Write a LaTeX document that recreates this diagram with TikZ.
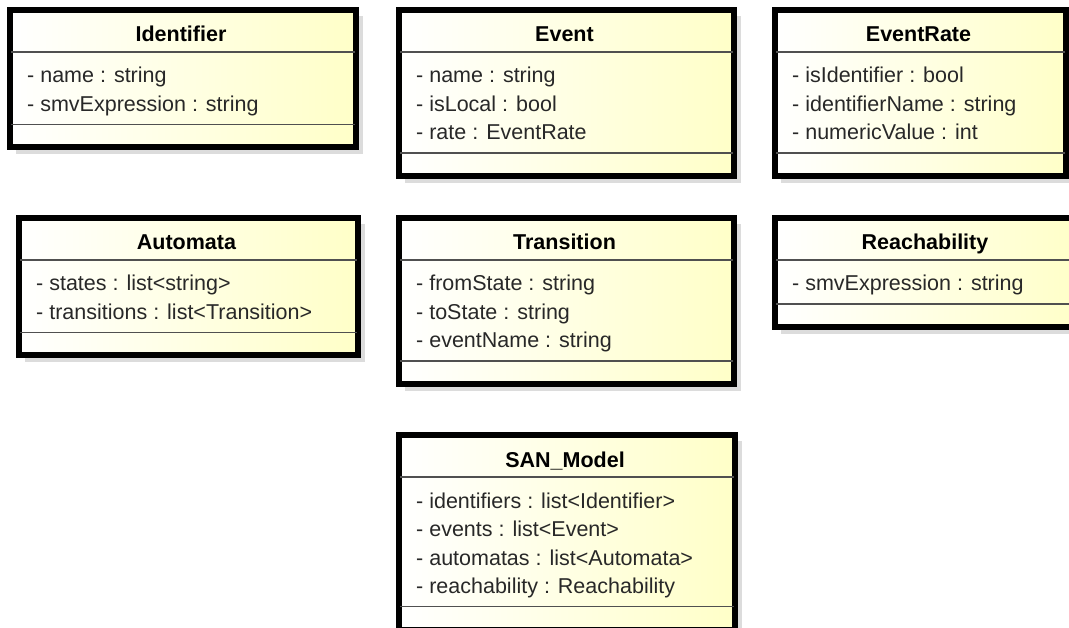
\documentclass[tikz,border=0pt]{standalone}
\usepackage{fontspec}
\setmainfont{Liberation Sans}
\definecolor{classyellow}{RGB}{255,255,200}
\definecolor{shadowgray}{RGB}{220,220,220}
\definecolor{sepgray}{RGB}{80,80,80}
\definecolor{attrtext}{RGB}{40,40,40}
\tikzset{
  classnode/.style={draw=black, line width=4pt, rectangle, inner sep=0pt,
    left color=white, right color=classyellow, anchor=north west},
  shadowbox/.style={fill=shadowgray},
  sepline/.style={draw=sepgray, line width=1.6pt},
  classtitle/.style={anchor=base, inner sep=0pt,
    font=\fontsize{21.5}{24}\selectfont\bfseries, text=black},
  attrline/.style={anchor=base west, inner sep=0pt,
    font=\fontsize{21.5}{24}\selectfont, text=attrtext},
}
% #1 id, #2 left, #3 top, #4 right, #5 number of attributes, #6 title, #7 attributes
\newcommand\umlclass[7]{%
  \pgfmathsetmacro\clsSepA{#3+45}%
  \pgfmathsetmacro\clsSepB{#3+76+28.5*(#5-1)+13}%
  \pgfmathsetmacro\clsBottom{\clsSepB+22}%
  \pgfmathsetmacro\clsW{#4-#2-4}%
  \pgfmathsetmacro\clsH{\clsBottom-#3-4}%
  \pgfmathsetmacro\clsMid{(#2+#4)/2}%
  \fill[shadowbox] (#2+9,#3+9) rectangle (#4+8,\clsBottom+8);
  \node[classnode, minimum width=\clsW pt, minimum height=\clsH pt] (#1) at (#2+2,#3+2) {};
  \draw[sepline] (#1.west |- 0,\clsSepA) -- (#1.east |- 0,\clsSepA);
  \draw[sepline] (#1.west |- 0,\clsSepB) -- (#1.east |- 0,\clsSepB);
  \draw[black, line width=4pt] (#1.north west) rectangle (#1.south east);
  \node[classtitle] (#1-title) at (\clsMid,#3+35) {#6};
  \foreach \attr [count=\i] in {#7} {
    \node[attrline] (#1-attr\i) at (#2+20,{#3+76+28.5*(\i-1)}) {\attr};
  }
}
\begin{document}
\begin{tikzpicture}[x=1pt, y=-1pt]
  \useasboundingbox (0,0) rectangle (1069,628);
  % first row
  \umlclass{identifier}{7}{7}{355}{2}{Identifier}%
    {- name : string, - smvExpression : string}
  \umlclass{event}{396}{7}{733}{3}{Event}%
    {- name : string, - isLocal : bool, - rate : EventRate}
  \umlclass{eventrate}{772}{7}{1065}{3}{EventRate}%
    {- isIdentifier : bool, - identifierName : string, - numericValue : int}
  % second row
  \umlclass{automata}{16}{215}{357}{2}{Automata}%
    {- states : list<string>, - transitions : list<Transition>}
  \umlclass{transition}{396}{215}{733}{3}{Transition}%
    {- fromState : string, - toState : string, - eventName : string}
  \umlclass{reachability}{772}{215}{1078}{1}{Reachability}%
    {- smvExpression : string}
  % model
  \umlclass{sanmodel}{396}{432}{734}{4}{SAN\_Model}%
    {- identifiers : list<Identifier>, - events : list<Event>,
     - automatas : list<Automata>, - reachability : Reachability}
\end{tikzpicture}
\end{document}
